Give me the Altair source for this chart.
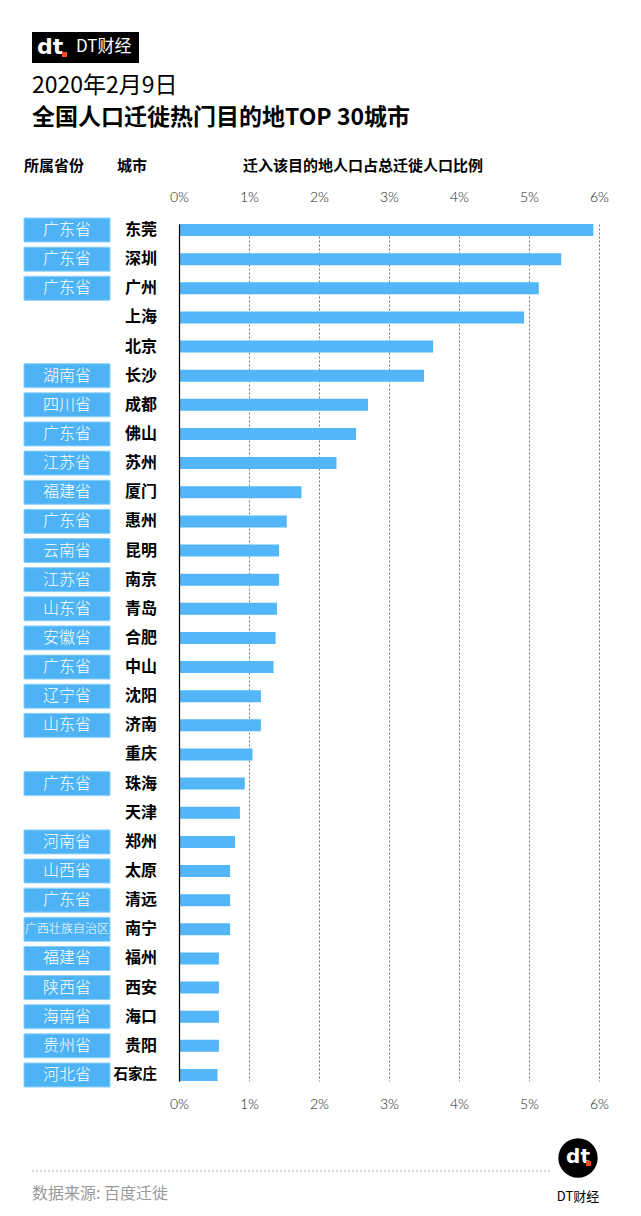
import altair as alt
import pandas as pd

# ---------------- data ----------------
provinces = ["广东省", "广东省", "广东省", "", "", "湖南省", "四川省", "广东省", "江苏省", "福建省",
             "广东省", "云南省", "江苏省", "山东省", "安徽省", "广东省", "辽宁省", "山东省", "", "广东省",
             "", "河南省", "山西省", "广东省", "广西壮族自治区", "福建省", "陕西省", "海南省", "贵州省", "河北省"]
cities = ["东莞", "深圳", "广州", "上海", "北京", "长沙", "成都", "佛山", "苏州", "厦门",
          "惠州", "昆明", "南京", "青岛", "合肥", "中山", "沈阳", "济南", "重庆", "珠海",
          "天津", "郑州", "太原", "清远", "南宁", "福州", "西安", "海口", "贵阳", "石家庄"]
values = [5.92, 5.46, 5.14, 4.93, 3.63, 3.50, 2.70, 2.53, 2.25, 1.75,
          1.54, 1.43, 1.43, 1.40, 1.38, 1.35, 1.17, 1.17, 1.05, 0.94,
          0.87, 0.80, 0.73, 0.73, 0.73, 0.57, 0.57, 0.57, 0.57, 0.55]
x_ticks = [0, 1, 2, 3, 4, 5, 6]

title1 = "2020年2月9日"
title2 = "全国人口迁徙热门目的地TOP 30城市"
col_prov = "所属省份"
col_city = "城市"
col_val = "迁入该目的地人口占总迁徙人口比例"
source = "数据来源: 百度迁徙"
brand = "DT财经"

df = pd.DataFrame({"prov": provinces, "city": cities, "value": values})

# ---------------- layout ----------------
OX, OY = 179, 212          # plot-area origin in the page
W, H = 420, 878
FONT = "Noto Sans CJK SC"
BAR = "#52b6f8"
BOX = "#4eb3f4"


def px(x):
    return x - OX


def py(y):
    return y - OY


def one(text):
    return alt.Chart(pd.DataFrame({"t": [text]}))


def label(text, x, y, size, weight="normal", color="black", align="left", font=FONT):
    return one(text).mark_text(align=align, baseline="middle", fontSize=size,
                               fontWeight=weight, color=color, font=font).encode(
        x=alt.value(px(x)), y=alt.value(py(y)), text="t:N")


yscale = alt.Scale(domain=cities, range=[12, 869], paddingInner=0.588, paddingOuter=0)
xscale = alt.Scale(domain=[0, 6], nice=False)

axis_common = dict(values=x_ticks, labelExpr="datum.value + '%'", title=None, ticks=False,
                   domain=False, labelFlush=False, labelFontSize=14, labelColor="#222",
                   labelFont="Lato", labelFontWeight=300)

base = alt.Chart(df)

bars = base.mark_bar(color=BAR).encode(
    x=alt.X("value:Q", scale=xscale,
            axis=alt.Axis(orient="top", labelPadding=8,
                          grid=True, gridDash=[2, 2], gridColor="#777", gridWidth=1,
                          **axis_common)),
    y=alt.Y("city:N", scale=yscale, sort=cities,
            axis=alt.Axis(labels=False, ticks=False, title=None, domain=True,
                          domainColor="black", domainWidth=1.2, grid=False, zindex=1)),
)

bottom_axis = base.mark_bar(opacity=0).encode(
    x=alt.X("value:Q", scale=xscale,
            axis=alt.Axis(orient="bottom", labelPadding=7, grid=False, **axis_common)),
    y=alt.Y("city:N", scale=yscale, sort=cities),
)

boxes = base.transform_filter("datum.prov != ''").mark_bar(
    orient="horizontal", size=24, color=BOX, stroke="#8fd0fa", strokeWidth=1).encode(
    x=alt.value(px(24)), x2=alt.value(px(110)),
    y=alt.Y("city:N", scale=yscale, sort=cities),
)

prov_text = base.transform_filter("datum.prov != ''").mark_text(
    align="center", baseline="middle", color="white", font=FONT, fontWeight=300).encode(
    x=alt.value(px(67)),
    y=alt.Y("city:N", scale=yscale, sort=cities),
    text="prov:N",
    size=alt.condition("length(datum.prov) > 4", alt.value(12), alt.value(16)),
)

city_text = base.mark_text(align="right", baseline="middle", color="black", font=FONT,
                           fontWeight="bold").encode(
    x=alt.value(px(157)),
    y=alt.Y("city:N", scale=yscale, sort=cities),
    text="city:N",
    size=alt.condition("length(datum.city) > 2", alt.value(14.5), alt.value(16)),
)

# header
logo_box = one("").mark_rect(color="black").encode(
    x=alt.value(px(32)), x2=alt.value(px(139)), y=alt.value(py(32)), y2=alt.value(py(63)))
logo_dt = label("dt", 37, 47, 22, weight="bold", color="white", font="DejaVu Sans")
logo_dot = one("").mark_rect(color="#ff4a1c").encode(
    x=alt.value(px(62)), x2=alt.value(px(67)), y=alt.value(py(52)), y2=alt.value(py(57)))
logo_name = label(brand, 76, 47, 17, color="white")

t1 = label(title1, 32, 86, 23)
t2 = label(title2, 32, 118, 23, weight="bold")
h1 = label(col_prov, 24, 166, 15, weight="bold")
h2 = label(col_city, 117, 166, 15, weight="bold")
h3 = label(col_val, 243, 166, 15, weight="bold")

# footer
foot_line = one("").mark_rule(color="#aaaaaa", strokeDash=[2, 2], strokeWidth=1).encode(
    x=alt.value(px(32)), x2=alt.value(px(550)), y=alt.value(py(1171)))
foot_src = label(source, 32, 1194, 16, color="#9a9a9a")
circle = one("").mark_circle(color="black", opacity=1, size=1550).encode(
    x=alt.value(px(578)), y=alt.value(py(1158)))
c_dt = label("dt", 578, 1157, 20, weight="bold", color="white", align="center", font="DejaVu Sans")
c_dot = one("").mark_rect(color="#ff4a1c").encode(
    x=alt.value(px(586)), x2=alt.value(px(591)), y=alt.value(py(1161)), y2=alt.value(py(1166)))
c_name = label(brand, 578, 1197, 13, color="black", align="center")

chart = alt.layer(
    bars, bottom_axis, boxes, prov_text, city_text,
    logo_box, logo_dt, logo_dot, logo_name, t1, t2, h1, h2, h3,
    foot_line, foot_src, circle, c_dt, c_dot, c_name,
).resolve_axis(x="independent").properties(
    width=W, height=H,
    autosize=alt.AutoSizeParams(type="none"),
    padding={"left": OX, "top": OY, "right": 641 - OX - W, "bottom": 1216 - OY - H},
    background="white",
).configure_view(stroke=None)

chart.save("out.html", embed_options={"renderer": "svg", "actions": False})
